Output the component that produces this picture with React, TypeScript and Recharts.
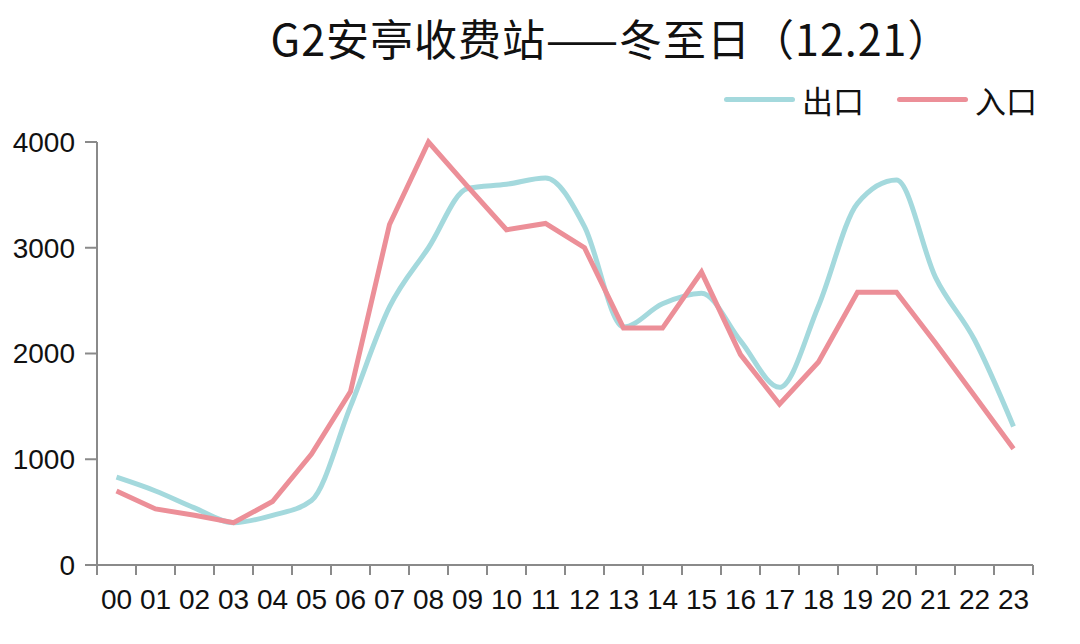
import { LineChart, Line, XAxis, YAxis } from 'recharts';

const hours = ['00', '01', '02', '03', '04', '05', '06', '07', '08', '09', '10', '11',
  '12', '13', '14', '15', '16', '17', '18', '19', '20', '21', '22', '23'];
const exitFlow = [830, 700, 540, 400, 470, 610, 1500, 2440, 3000, 3560, 3600, 3660,
  3200, 2250, 2470, 2570, 2120, 1680, 2450, 3420, 3640, 2720, 2130, 1310];
const entryFlow = [700, 530, 470, 400, 600, 1050, 1640, 3220, 4000, 3580, 3170, 3230,
  3000, 2240, 2240, 2770, 1990, 1520, 1920, 2580, 2580, 2100, 1600, 1100];
const yTicks = [0, 1000, 2000, 3000, 4000];

const data = hours.map((h, i) => ({ hour: h, exit: exitFlow[i], entry: entryFlow[i] }));

const EXIT_COLOR = '#a4d9dd';
const ENTRY_COLOR = '#ec8f98';
const AXIS_COLOR = '#8a8a8a';
const PLOT_WIDTH = 936;
const BAND = PLOT_WIDTH / hours.length;

// ticks sit on the band edges, labels in the middle
function HourTick(props: any) {
  const { x, y, payload, index } = props;
  const left = x - BAND / 2;
  return (
    <g>
      <line x1={left} x2={left} y1={y - 10} y2={y} stroke={AXIS_COLOR} strokeWidth={2} />
      {index === hours.length - 1 && (
        <line x1={x + BAND / 2} x2={x + BAND / 2} y1={y - 10} y2={y} stroke={AXIS_COLOR} strokeWidth={2} />
      )}
      <text x={x} y={y + 14} dy="0.71em" textAnchor="middle" fill="#111"
        fontSize={28} fontFamily="Liberation Sans, Arial, sans-serif">
        {payload.value}
      </text>
    </g>
  );
}

const legendItems = [
  { label: '出口', color: EXIT_COLOR },
  { label: '入口', color: ENTRY_COLOR },
];

export default function App() {
  return (
    <div style={{ position: 'absolute', left: 0, top: 0, width: 1080, height: 644, background: '#fff' }}>
      <div style={{
        position: 'absolute', left: 0, width: 1222, top: 8, textAlign: 'center', letterSpacing: 1,
        fontSize: 43, lineHeight: '58px', color: '#111', fontFamily: '"Noto Sans CJK SC", sans-serif',
      }}>
        G2安亭收费站——冬至日（12.21）
      </div>
      <div style={{ position: 'absolute', right: 43, top: 84, display: 'flex', alignItems: 'center', gap: 33 }}>
        {legendItems.map((it) => (
          <div key={it.label} style={{ display: 'flex', alignItems: 'center', gap: 7 }}>
            <span style={{ width: 71, height: 5, borderRadius: 3, background: it.color, display: 'inline-block' }} />
            <span style={{ fontSize: 31, color: '#111', fontFamily: '"Noto Sans CJK SC", sans-serif', lineHeight: 1 }}>
              {it.label}
            </span>
          </div>
        ))}
      </div>
      <LineChart
        width={1080}
        height={644}
        data={data}
        margin={{ top: 142, right: 47, left: 0, bottom: 0 }}
      >
        <XAxis
          dataKey="hour"
          height={79}
          padding={{ left: BAND / 2, right: BAND / 2 }}
          axisLine={{ stroke: AXIS_COLOR, strokeWidth: 2 }}
          tickLine={false}
          tickSize={10}
          tickMargin={0}
          interval={0}
          tick={<HourTick />}
        />
        <YAxis
          width={97}
          domain={[0, 4000]}
          ticks={yTicks}
          axisLine={{ stroke: AXIS_COLOR, strokeWidth: 2 }}
          tickLine={{ stroke: AXIS_COLOR, strokeWidth: 2 }}
          tickSize={12}
          tickMargin={10}
          tick={{ fill: '#111', fontSize: 28, fontFamily: 'Liberation Sans, Arial, sans-serif' }}
        />
        <Line
          name="出口"
          type="monotone"
          dataKey="exit"
          stroke={EXIT_COLOR}
          strokeWidth={5}
          dot={false}
          activeDot={false}
          isAnimationActive={false}
        />
        <Line
          name="入口"
          type="linear"
          dataKey="entry"
          stroke={ENTRY_COLOR}
          strokeWidth={5}
          dot={false}
          activeDot={false}
          isAnimationActive={false}
        />
      </LineChart>
    </div>
  );
}
